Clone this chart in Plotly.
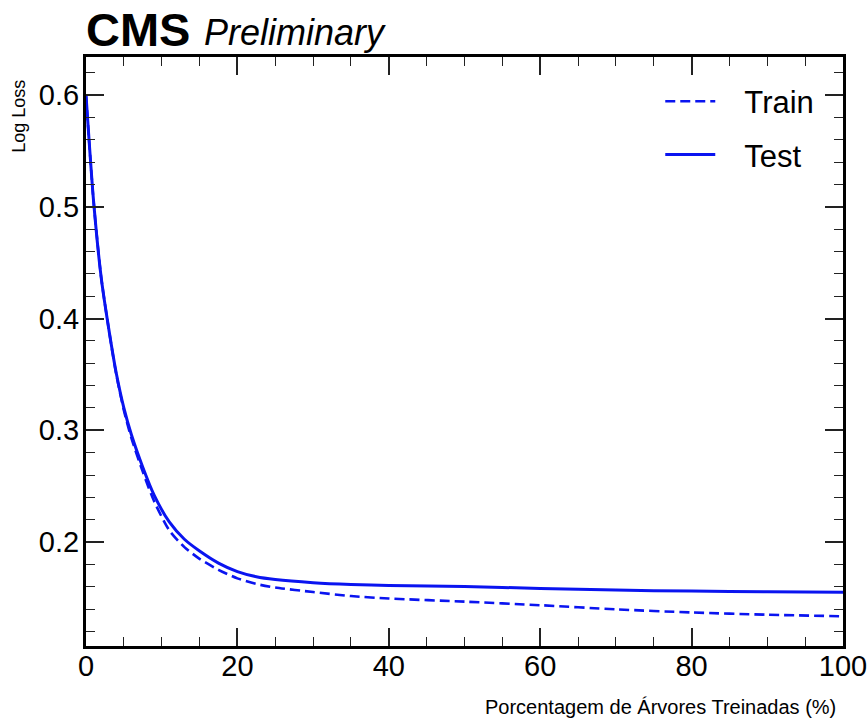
import plotly.graph_objects as go

# Percentage of trained trees (x) and log-loss values
x_pct = [0, 0.4, 1, 2, 3, 4, 5, 6, 7.5, 9, 11, 13, 15, 17.5, 20, 22.5, 25,
         30, 35, 40, 50, 60, 70, 80, 90, 100]
train_loss = [0.600, 0.560, 0.505, 0.437, 0.391, 0.350, 0.318, 0.293, 0.263,
              0.2365, 0.2105, 0.1955, 0.1850, 0.1752, 0.1675, 0.1625, 0.1593,
              0.1553, 0.1517, 0.1495, 0.1467, 0.1435, 0.1398, 0.1370,
              0.1350, 0.1336]
test_loss = [0.600, 0.560, 0.505, 0.437, 0.391, 0.351, 0.320, 0.296, 0.267,
             0.242, 0.218, 0.2025, 0.1920, 0.1812, 0.1736, 0.1690, 0.1665,
             0.1637, 0.1621, 0.1612, 0.1602, 0.1585, 0.1570, 0.1561,
             0.1555, 0.1550]
series_names = ["Train", "Test"]

FONT = "Liberation Sans, Arial, Helvetica, sans-serif"
BLUE = "#0a14f0"
PAD = "\u2002\u00a0"

fig = go.Figure()
fig.add_trace(go.Scatter(x=x_pct, y=train_loss, mode="lines", name=PAD + series_names[0],
                         legendgroup="a", line=dict(color=BLUE, width=2.6, dash="10px,5px",
                                                     shape="spline", smoothing=0.7)))
fig.add_trace(go.Scatter(x=x_pct, y=test_loss, mode="lines", name=PAD + series_names[1],
                         legendgroup="b", line=dict(color=BLUE, width=3,
                                                     shape="spline", smoothing=0.7)))

axis_common = dict(
    showline=True, linecolor="black", linewidth=3, mirror="allticks",
    ticks="inside", ticklen=18, tickwidth=1.6, tickcolor="#222",
    showgrid=False, zeroline=False, automargin=False,
    tickfont=dict(family=FONT, size=29, color="black"),
)

fig.update_xaxes(range=[0, 100], dtick=20, tick0=0, ticklabelstandoff=-8,
                 minor=dict(ticks="inside", ticklen=9, tickwidth=1.4, dtick=5,
                            tickcolor="#222", showgrid=False),
                 **axis_common)
fig.update_yaxes(range=[0.107, 0.634], dtick=0.1, tick0=0, tickformat=".1f",
                 ticklabelstandoff=-2,
                 minor=dict(ticks="inside", ticklen=9, tickwidth=1.4, dtick=0.02,
                            tickcolor="#222", showgrid=False),
                 **axis_common)

fig.update_layout(
    width=868, height=722,
    margin=dict(l=86, r=25, t=57, b=76, autoexpand=False),
    plot_bgcolor="white", paper_bgcolor="white",
    font=dict(family=FONT, color="black"),
    showlegend=True,
    legend=dict(x=0.7586, y=0.97, xanchor="left", yanchor="top",
                bgcolor="rgba(0,0,0,0)", traceorder="grouped", tracegroupgap=10,
                itemwidth=50,
                font=dict(family=FONT, size=31, color="black")),
    annotations=[
        dict(text="<b>CMS</b>", xref="paper", yref="paper", x=-0.002, y=1.0,
             xanchor="left", yanchor="bottom", showarrow=False, yshift=-1,
             font=dict(family=FONT, size=47, color="black")),
        dict(text="<i>Preliminary</i>", xref="paper", yref="paper", x=0.153, y=1.0,
             xanchor="left", yanchor="bottom", showarrow=False, yshift=2,
             font=dict(family=FONT, size=36, color="black")),
        dict(text="Log Loss", xref="paper", yref="paper", x=-0.0885, y=0.964,
             xanchor="center", yanchor="top", textangle=-90, showarrow=False,
             font=dict(family=FONT, size=18, color="black")),
        dict(text="Porcentagem de Árvores Treinadas (%)", xref="paper", yref="paper",
             x=0.9934, y=-0.1036, xanchor="right", yanchor="middle", showarrow=False,
             font=dict(family=FONT, size=20, color="black")),
    ],
)

fig.write_html("out.html")
